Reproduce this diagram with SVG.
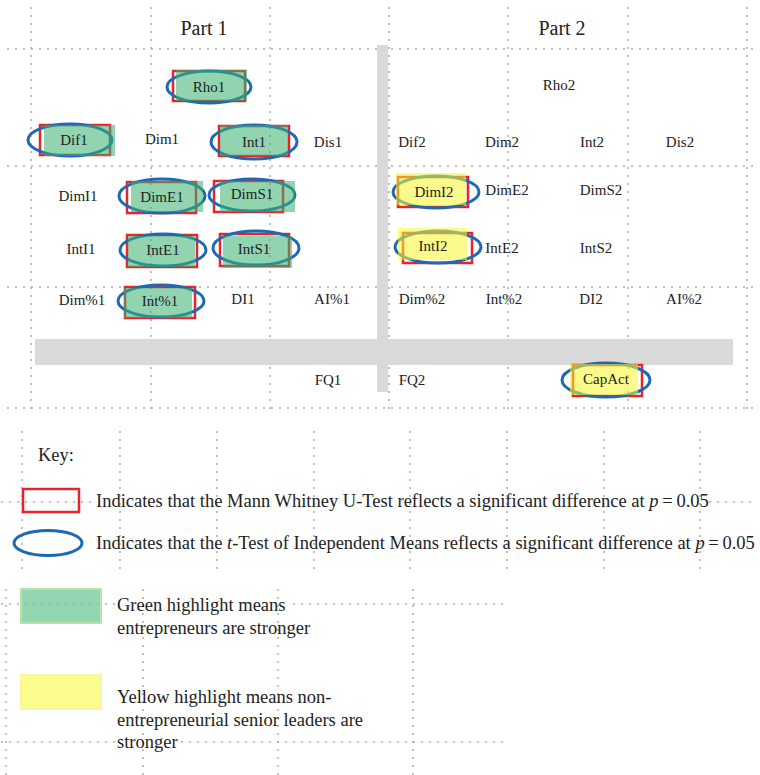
<svg xmlns="http://www.w3.org/2000/svg" width="760" height="775" viewBox="0 0 760 775">
  <style>
    .grid { fill: none; stroke: #ababab; stroke-width: 2; stroke-dasharray: 0 8; stroke-linecap: round; }
    .bar { fill: #d9d9d9; }
    .mw { fill: none; stroke: #e3262e; stroke-width: 2.5; }
    .tt { fill: none; stroke: #1e6ab2; stroke-width: 3; }
    .hg { fill: #39b16f; opacity: 0.55; }
    .hy { fill: #fbf62e; opacity: 0.55; }
    text { font-family: "Liberation Serif", "Times New Roman", serif; fill: #222; }
    .lbl { font-size: 15px; text-anchor: middle; dominant-baseline: central; }
    .part { font-size: 20px; text-anchor: middle; }
    .key { font-size: 18.5px; }
    .it { font-style: italic; }
  </style>

  <rect width="760" height="775" fill="#ffffff"/>

  <!-- dotted layout grid: results table -->
  <g id="grid-table">
    <path class="grid" d="M31 8V416M151 8V416M270 8V416M389 8V416M508 8V416M628 8V416M747 8V416"/>
    <path class="grid" d="M8 49H756M8 166H756M8 287H756M8 408H756"/>
  </g>

  <!-- dotted layout grid: key -->
  <g id="grid-key">
    <path class="grid" d="M22 432V572M120 432V572M217 432V572M314 432V572M410 432V572M507 432V572M604 432V572M700 432V572"/>
    <path class="grid" d="M6 590V775M143 590V775M278 590V775M413 590V775"/>
    <path class="grid" d="M2 502H94M710 502H758"/>
  </g>

  <!-- grey separators between parts and sections -->
  <g id="separators">
    <rect class="bar" x="377" y="45" width="11" height="347"/>
    <rect class="bar" x="35" y="339" width="698" height="26"/>
  </g>

  <text class="part" x="204" y="35">Part 1</text>
  <text class="part" x="562" y="35">Part 2</text>

  <!-- Part 1 -->
  <g id="Rho1">
    <rect class="mw" x="173" y="71" width="72" height="30"/>
    <ellipse class="tt" cx="209" cy="87" rx="42" ry="16"/>
    <rect class="hg" x="176" y="70" width="71" height="31"/>
    <text class="lbl" x="209" y="87">Rho1</text>
  </g>
  <g id="Dif1">
    <rect class="mw" x="40" y="125" width="70" height="30"/>
    <ellipse class="tt" cx="70" cy="140" rx="42" ry="16"/>
    <rect class="hg" x="44" y="125" width="71" height="31"/>
    <text class="lbl" x="74" y="140">Dif1</text>
  </g>
  <g id="Dim1"><text class="lbl" x="162" y="139">Dim1</text></g>
  <g id="Int1">
    <rect class="mw" x="219" y="126" width="70" height="30"/>
    <ellipse class="tt" cx="254" cy="142" rx="43" ry="17"/>
    <rect class="hg" x="220" y="125" width="68" height="31"/>
    <text class="lbl" x="254" y="142">Int1</text>
  </g>
  <g id="Dis1"><text class="lbl" x="328" y="142">Dis1</text></g>

  <g id="DimI1"><text class="lbl" x="78" y="196">DimI1</text></g>
  <g id="DimE1">
    <rect class="mw" x="127" y="182" width="69" height="31"/>
    <ellipse class="tt" cx="162" cy="196" rx="43" ry="17"/>
    <rect class="hg" x="131" y="181" width="72" height="31"/>
    <text class="lbl" x="162" y="197">DimE1</text>
  </g>
  <g id="DimS1">
    <rect class="mw" x="214" y="181" width="69" height="31"/>
    <ellipse class="tt" cx="252" cy="195" rx="43" ry="16"/>
    <rect class="hg" x="220" y="181" width="75" height="31"/>
    <text class="lbl" x="252" y="194">DimS1</text>
  </g>

  <g id="IntI1"><text class="lbl" x="81" y="249">IntI1</text></g>
  <g id="IntE1">
    <rect class="mw" x="127" y="235" width="70" height="32"/>
    <ellipse class="tt" cx="163" cy="250" rx="43" ry="16"/>
    <rect class="hg" x="128" y="236" width="67" height="31"/>
    <text class="lbl" x="163" y="250">IntE1</text>
  </g>
  <g id="IntS1">
    <rect class="mw" x="220" y="234" width="69" height="32"/>
    <ellipse class="tt" cx="256" cy="248" rx="43" ry="17"/>
    <rect class="hg" x="223" y="236" width="69" height="32"/>
    <text class="lbl" x="254" y="249">IntS1</text>
  </g>

  <g id="Dim_pct1"><text class="lbl" x="82" y="300">Dim%1</text></g>
  <g id="Int_pct1">
    <rect class="mw" x="125" y="287" width="70" height="31"/>
    <ellipse class="tt" cx="161" cy="301" rx="43" ry="16"/>
    <rect class="hg" x="124" y="288" width="68" height="30"/>
    <text class="lbl" x="160" y="301">Int%1</text>
  </g>
  <g id="DI1"><text class="lbl" x="243" y="299">DI1</text></g>
  <g id="AI_pct1"><text class="lbl" x="332" y="299">AI%1</text></g>
  <g id="FQ1"><text class="lbl" x="328" y="380">FQ1</text></g>

  <!-- Part 2 -->
  <g id="Rho2"><text class="lbl" x="559" y="85">Rho2</text></g>
  <g id="Dif2"><text class="lbl" x="412" y="142">Dif2</text></g>
  <g id="Dim2"><text class="lbl" x="502" y="142">Dim2</text></g>
  <g id="Int2"><text class="lbl" x="592" y="142">Int2</text></g>
  <g id="Dis2"><text class="lbl" x="680" y="142">Dis2</text></g>

  <g id="DimI2">
    <rect class="mw" x="398" y="177" width="70" height="30"/>
    <ellipse class="tt" cx="436" cy="192" rx="43" ry="16"/>
    <rect class="hy" x="396" y="173" width="70" height="32"/>
    <text class="lbl" x="434" y="192">DimI2</text>
  </g>
  <g id="DimE2"><text class="lbl" x="507" y="190">DimE2</text></g>
  <g id="DimS2"><text class="lbl" x="601" y="190">DimS2</text></g>

  <g id="IntI2">
    <rect class="mw" x="403" y="233" width="69" height="30"/>
    <ellipse class="tt" cx="438" cy="247" rx="43" ry="16"/>
    <rect class="hy" x="398" y="228" width="69" height="32"/>
    <text class="lbl" x="433" y="246">IntI2</text>
  </g>
  <g id="IntE2"><text class="lbl" x="502" y="248">IntE2</text></g>
  <g id="IntS2"><text class="lbl" x="596" y="248">IntS2</text></g>

  <g id="Dim_pct2"><text class="lbl" x="422" y="299">Dim%2</text></g>
  <g id="Int_pct2"><text class="lbl" x="504" y="299">Int%2</text></g>
  <g id="DI2"><text class="lbl" x="591" y="299">DI2</text></g>
  <g id="AI_pct2"><text class="lbl" x="684" y="299">AI%2</text></g>
  <g id="FQ2"><text class="lbl" x="412" y="380">FQ2</text></g>
  <g id="CapAct">
    <rect class="mw" x="573" y="365" width="69" height="31"/>
    <ellipse class="tt" cx="606" cy="380" rx="44" ry="17"/>
    <rect class="hy" x="570" y="364" width="68" height="31"/>
    <text class="lbl" x="606" y="379">CapAct</text>
  </g>

  <!-- key -->
  <g id="key">
    <text class="key" x="38" y="461">Key:</text>

    <rect class="mw" x="23" y="489" width="56" height="23"/>
    <text class="key" x="96" y="507">Indicates that the Mann Whitney U-Test reflects a significant difference at <tspan class="it">p</tspan>&#8201;=&#8201;0.05</text>

    <ellipse class="tt" cx="48" cy="543" rx="34" ry="12.5"/>
    <text class="key" x="96" y="549">Indicates that the <tspan class="it">t</tspan>-Test of Independent Means reflects a significant difference at <tspan class="it">p</tspan>&#8201;=&#8201;0.05</text>

    <rect x="21" y="589" width="80" height="34" fill="#93d6b2" stroke="#b9e3a6" stroke-width="2"/>
    <path class="grid" d="M2 604H116M294 604H508"/>
    <text class="key" x="117" y="611">Green highlight means</text>
    <text class="key" x="117" y="634">entrepreneurs are stronger</text>

    <rect x="21" y="675" width="80" height="34" fill="#fdfc8e" stroke="#f7f4a2" stroke-width="2"/>
    <text class="key" x="117" y="703">Yellow highlight means non-</text>
    <text class="key" x="117" y="726">entrepreneurial senior leaders are</text>
    <path class="grid" d="M2 742H116M182 742H508"/>
    <text class="key" x="117" y="748">stronger</text>
  </g>
</svg>
